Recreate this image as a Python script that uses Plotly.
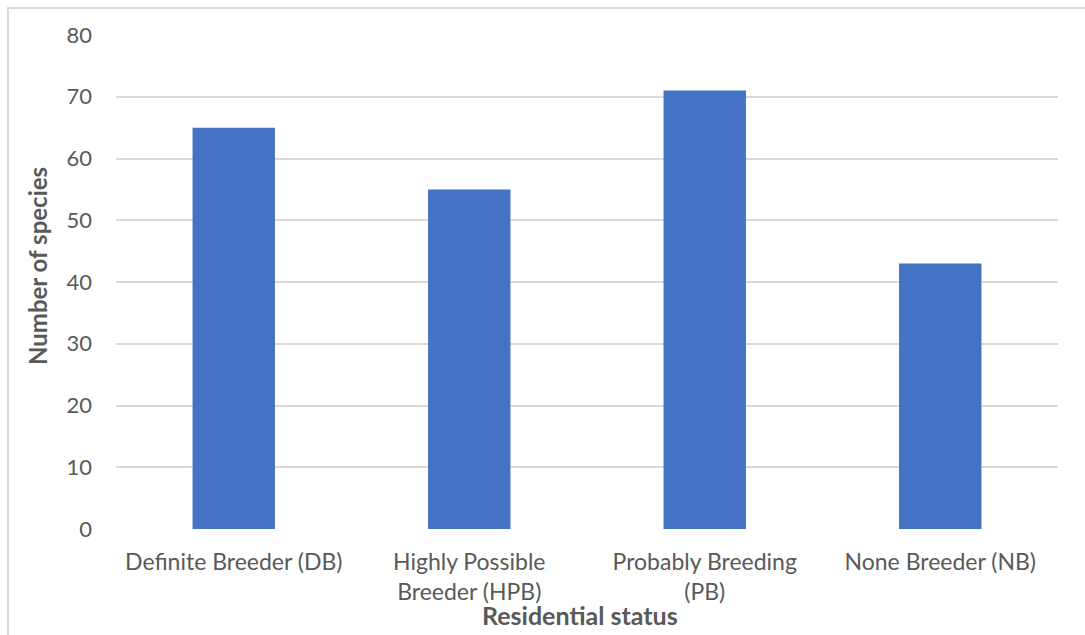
import plotly.graph_objects as go

categories = ["Definite Breeder (DB)", "Highly Possible<br>Breeder (HPB)",
              "Probably Breeding<br>(PB)", "None Breeder (NB)"]
species_counts = [65, 55, 71, 43]
y_ticks = [0, 10, 20, 30, 40, 50, 60, 70, 80]

W, H = 1085, 635
L, R, T, B = 116, 27, 35, 106
pw, ph = W - L - R, H - T - B

font_family = "Lato, 'Open Sans', sans-serif"
text_color = "#595959"

fig = go.Figure(
    go.Bar(
        x=categories,
        y=species_counts,
        marker=dict(color="#4472C4", line=dict(width=0)),
        width=0.35,
    )
)

fig.update_layout(
    width=W,
    height=H,
    margin=dict(l=L, r=R, t=T, b=B),
    plot_bgcolor="white",
    paper_bgcolor="white",
    showlegend=False,
    font=dict(family=font_family, size=22, color=text_color),
)

fig.update_xaxes(
    showgrid=False,
    showline=False,
    zeroline=False,
    ticks="",
    ticklabelstandoff=17,
    tickfont=dict(size=23, color=text_color),
)

fig.update_yaxes(
    range=[0, 80],
    tickvals=y_ticks,
    showgrid=True,
    gridcolor="#d9d9d9",
    gridwidth=1.5,
    zeroline=False,
    showline=False,
    ticks="",
    ticklabelstandoff=23,
    tickfont=dict(size=22, color=text_color),
)

# axis titles
fig.add_annotation(
    text="<b>Number of species</b>",
    xref="paper", yref="paper",
    x=(37 - L) / pw, y=(H - B - 266) / ph,
    textangle=-90, showarrow=False,
    font=dict(size=24, color=text_color, family=font_family),
    xanchor="center", yanchor="middle",
)
fig.add_annotation(
    text="<b>Residential status</b>",
    xref="paper", yref="paper",
    x=(580 - L) / pw, y=(H - B - 615) / ph,
    showarrow=False,
    font=dict(size=25, color=text_color, family=font_family),
    xanchor="center", yanchor="middle",
)

# outer chart border
fig.add_shape(
    type="rect",
    xref="paper", yref="paper",
    x0=(8 - L) / pw, x1=(W + 20 - L) / pw,
    y0=(H - B - (H + 20)) / ph, y1=(H - B - 8) / ph,
    line=dict(color="#d9d9d9", width=2),
    fillcolor="rgba(0,0,0,0)",
    layer="below",
)

fig.write_html("out.html")
